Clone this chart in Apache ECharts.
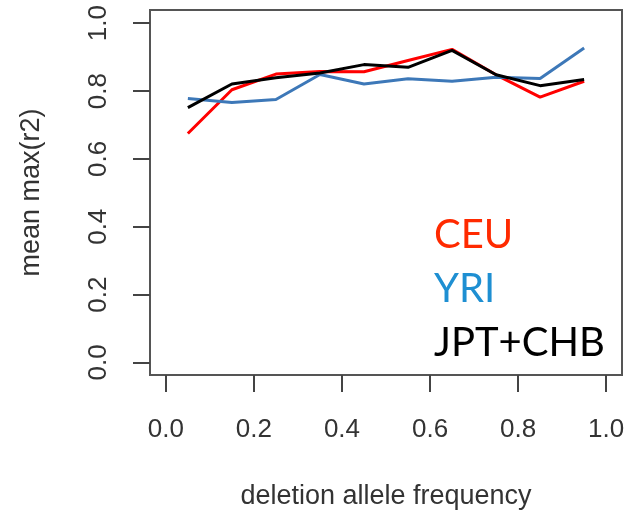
<!DOCTYPE html>
<html>
<head>
<meta charset="utf-8">
<script src="https://cdn.jsdelivr.net/npm/echarts@6/dist/echarts.min.js"></script>
<style>
  html, body { margin: 0; padding: 0; background: #fff; }
  #main { width: 628px; height: 515px; }
</style>
</head>
<body>
<div id="main"></div>
<script>
// frequency bin centres
var freqs = [0.05, 0.15, 0.25, 0.35, 0.45, 0.55, 0.65, 0.75, 0.85, 0.95];
// mean max(r2) per population
var ceu = [0.675, 0.804, 0.850, 0.858, 0.857, 0.890, 0.923, 0.848, 0.782, 0.829];
var yri = [0.778, 0.766, 0.775, 0.849, 0.821, 0.836, 0.829, 0.841, 0.837, 0.927];
var jptChb = [0.751, 0.821, 0.839, 0.853, 0.878, 0.870, 0.920, 0.848, 0.816, 0.834];
var tickVals = [0, 0.2, 0.4, 0.6, 0.8, 1.0];

function pairs(ys) {
    return freqs.map(function (f, i) { return [f, ys[i]]; });
}

var chart = echarts.init(document.getElementById('main'));
var axisFont = 'Liberation Sans, Arial, sans-serif';

chart.setOption({
    backgroundColor: '#fff',
    animation: false,
    grid: {
        left: 150, right: 6, top: 10, bottom: 138,
        show: true, borderColor: '#555', borderWidth: 2
    },
    // 图例只显示彩色文字
    legend: {
        orient: 'vertical',
        left: 424, top: 210,
        icon: 'none', itemWidth: 0, itemGap: 14,
        textStyle: { fontFamily: 'Lato', fontSize: 40 },
        data: [
            { name: 'CEU', textStyle: { color: '#ff2a00' } },
            { name: 'YRI', textStyle: { color: '#1e8fd2' } },
            { name: 'JPT+CHB', textStyle: { color: '#000' } }
        ]
    },
    xAxis: {
        type: 'value',
        min: -0.036, max: 1.036,
        name: 'deletion allele frequency',
        nameLocation: 'middle', nameGap: 108,
        nameTextStyle: { fontFamily: axisFont, fontSize: 27, color: '#333' },
        axisLine: { show: false, onZero: false },
        axisTick: { show: true, inside: false, length: 17, customValues: tickVals, lineStyle: { color: '#444', width: 2 } },
        axisLabel: {
            customValues: tickVals, margin: 42,
            fontFamily: axisFont, fontSize: 26, color: '#333',
            formatter: function (v) { return v.toFixed(1); }
        },
        splitLine: { show: false }
    },
    yAxis: {
        type: 'value',
        min: -0.037, max: 1.039,
        name: 'mean max(r2)',
        nameLocation: 'middle', nameGap: 105,
        nameTextStyle: { fontFamily: axisFont, fontSize: 27, color: '#333' },
        axisLine: { show: false, onZero: false },
        axisTick: { show: true, inside: false, length: 17, customValues: tickVals, lineStyle: { color: '#444', width: 2 } },
        axisLabel: {
            customValues: tickVals, margin: 38, rotate: 90,
            fontFamily: axisFont, fontSize: 26, color: '#333',
            formatter: function (v) { return v.toFixed(1); }
        },
        splitLine: { show: false }
    },
    series: [
        { name: 'CEU', type: 'line', data: pairs(ceu), symbol: 'none', lineStyle: { color: '#ff0000', width: 3 }, itemStyle: { color: '#ff0000' } },
        { name: 'YRI', type: 'line', data: pairs(yri), symbol: 'none', lineStyle: { color: '#3d78b8', width: 3 }, itemStyle: { color: '#3d78b8' } },
        { name: 'JPT+CHB', type: 'line', data: pairs(jptChb), symbol: 'none', lineStyle: { color: '#000', width: 3 }, itemStyle: { color: '#000' } }
    ]
});
</script>
</body>
</html>
